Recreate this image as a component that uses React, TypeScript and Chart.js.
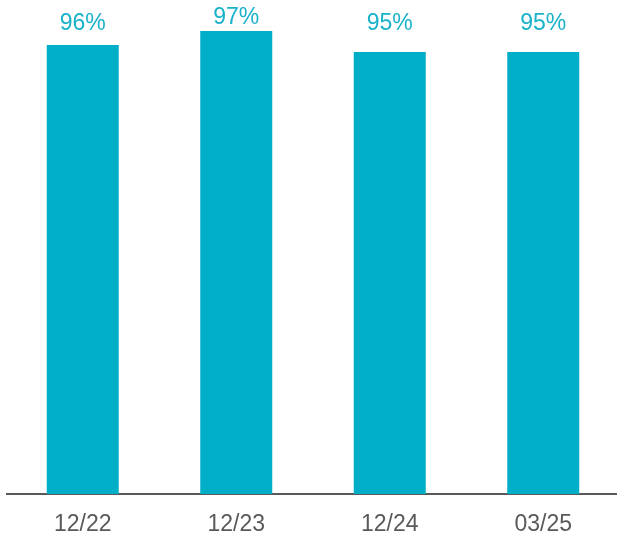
import React, { useEffect, useRef } from "react";
import { Chart, registerables } from "chart.js";

Chart.register(...registerables);

const categories = ["12/22", "12/23", "12/24", "03/25"];
const values = [95.9, 96.9, 95.4, 95.4];

const BAR_COLOR = "#00AEC7";
const LABEL_COLOR = "#1AB1CB";
const TICK_COLOR = "#595959";
const FONT = "'Liberation Sans', Arial, sans-serif";

const valueLabels = {
  id: "valueLabels",
  afterDatasetsDraw(chart: any) {
    const ctx = chart.ctx;
    const meta = chart.getDatasetMeta(0);
    ctx.save();
    ctx.fillStyle = LABEL_COLOR;
    ctx.font = `23px ${FONT}`;
    ctx.textAlign = "center";
    ctx.textBaseline = "alphabetic";
    meta.data.forEach((bar: any, i: number) => {
      const y = Math.min(bar.y - 7, 30);
      ctx.fillText(Math.round(values[i]) + "%", bar.x, y);
    });
    ctx.restore();
  },
};

export default function App() {
  const ref = useRef<HTMLCanvasElement>(null);
  useEffect(() => {
    const chart = new Chart(ref.current!, {
      type: "bar",
      data: {
        labels: categories,
        datasets: [
          {
            data: values,
            backgroundColor: BAR_COLOR,
            borderWidth: 0,
            barPercentage: 0.469,
            categoryPercentage: 1,
          },
        ],
      },
      options: {
        animation: false,
        responsive: false,
        maintainAspectRatio: false,
        layout: { padding: 0 },
        plugins: { legend: { display: false }, tooltip: { enabled: false } },
        scales: {
          x: {
            grid: { display: false },
            border: { display: true, color: "#595959", width: 2 },
            ticks: {
              color: TICK_COLOR,
              font: { family: FONT, size: 23 },
              padding: 9,
            },
            afterFit(scale: any) {
              scale.height = 40;
            },
          },
          y: {
            display: false,
            min: 64,
            max: 99.1,
          },
        },
      },
      plugins: [valueLabels],
    });
    return () => chart.destroy();
  }, []);
  return (
    <div
      style={{
        position: "fixed",
        left: 0,
        top: 0,
        width: 617,
        height: 534,
        overflow: "hidden",
        background: "#fff",
      }}
    >
      <canvas
        ref={ref}
        width={614}
        height={534}
        style={{ position: "absolute", left: 6, top: 0, width: 614, height: 534 }}
      />
    </div>
  );
}
